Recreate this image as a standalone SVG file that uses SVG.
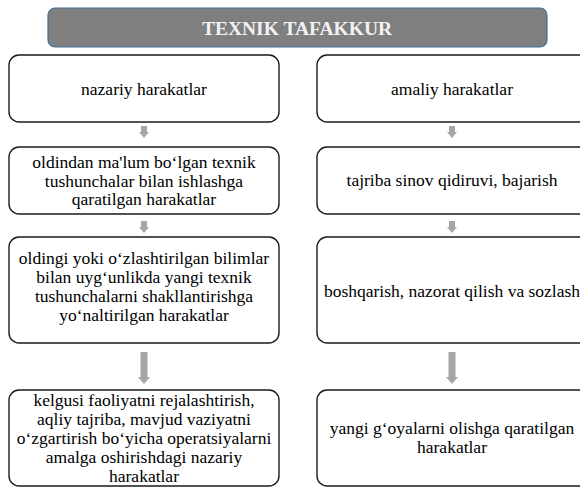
<svg xmlns="http://www.w3.org/2000/svg" width="580" height="488" viewBox="0 0 580 488">
<defs>
<style>
.box{fill:#ffffff;stroke:#1a1a1a;stroke-width:1.4}
.t{font-size:17.5px;fill:#000000;text-anchor:middle}
.title{font-size:19.5px;font-weight:bold;fill:#f2f2f2;text-anchor:middle}
.arr{fill:#a6a6a6}
</style>
</defs>
<rect width="580" height="488" fill="#ffffff"/>
<g font-family="Liberation Serif, Times New Roman, serif">
<g id="title">
<rect x="48" y="8" width="499" height="39" rx="7" fill="#7f7f7f" stroke="#41719c" stroke-width="1.2"/>
<text class="title" x="297" y="35">TEXNIK TAFAKKUR</text>
</g>
<g id="left1">
<rect class="box" x="9" y="55" width="270" height="67" rx="10"/>
<text class="t" x="144" y="95">nazariy harakatlar</text>
</g>
<g id="right1">
<rect class="box" x="317" y="55" width="272" height="67" rx="10"/>
<text class="t" x="452" y="95">amaliy harakatlar</text>
</g>
<g id="left2">
<rect class="box" x="9" y="147" width="270" height="67" rx="10"/>
<text class="t" x="144" y="168">oldindan ma'lum bo‘lgan texnik</text>
<text class="t" x="144" y="186.5">tushunchalar bilan ishlashga</text>
<text class="t" x="144" y="205">qaratilgan harakatlar</text>
</g>
<g id="right2">
<rect class="box" x="317" y="147" width="272" height="67" rx="10"/>
<text class="t" x="452" y="186">tajriba sinov qidiruvi, bajarish</text>
</g>
<g id="left3">
<rect class="box" x="9" y="237" width="270" height="106" rx="10"/>
<text class="t" x="144" y="264">oldingi yoki o‘zlashtirilgan bilimlar</text>
<text class="t" x="144" y="283">bilan uyg‘unlikda yangi texnik</text>
<text class="t" x="144" y="302">tushunchalarni shakllantirishga</text>
<text class="t" x="144" y="321">yo‘naltirilgan harakatlar</text>
</g>
<g id="right3">
<rect class="box" x="317" y="237" width="272" height="106" rx="10"/>
<text class="t" x="452" y="297">boshqarish, nazorat qilish va sozlash</text>
</g>
<g id="left4">
<rect class="box" x="9" y="390" width="270" height="96" rx="10"/>
<text class="t" x="144" y="406">kelgusi faoliyatni rejalashtirish,</text>
<text class="t" x="144" y="425">aqliy tajriba, mavjud vaziyatni</text>
<text class="t" x="144" y="444">o‘zgartirish bo‘yicha operatsiyalarni</text>
<text class="t" x="144" y="463">amalga oshirishdagi nazariy</text>
<text class="t" x="144" y="482">harakatlar</text>
</g>
<g id="right4">
<rect class="box" x="317" y="390" width="272" height="96" rx="10"/>
<text class="t" x="452" y="434">yangi g‘oyalarni olishga qaratilgan</text>
<text class="t" x="452" y="453">harakatlar</text>
</g>
</g>
<g id="connectors">
<polygon class="arr" points="141,126 147,126 147,132 149,132 144,138 139,132 141,132"/>
<polygon class="arr" points="449,126 455,126 455,132 457,132 452,138 447,132 449,132"/>
<polygon class="arr" points="141,221 147,221 147,227 149,227 144,233 139,227 141,227"/>
<polygon class="arr" points="449,221 455,221 455,227 457,227 452,233 447,227 449,227"/>
<polygon class="arr" points="140.5,352 147.5,352 147.5,377 150,377 144,384 138,377 140.5,377"/>
<polygon class="arr" points="448.5,352 455.5,352 455.5,377 458,377 452,384 446,377 448.5,377"/>
</g>
</svg>
